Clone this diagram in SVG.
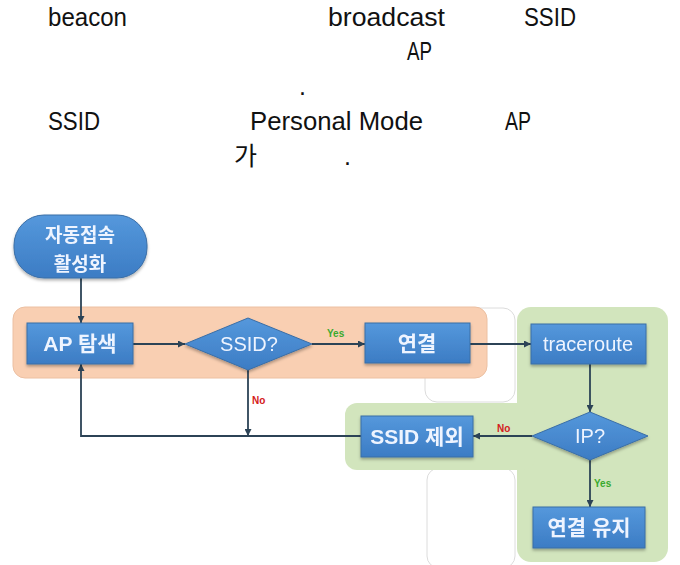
<svg xmlns="http://www.w3.org/2000/svg" width="680" height="565" viewBox="0 0 680 565">
<style>
.doc{font-family:"Liberation Sans","Noto Sans CJK KR",sans-serif;font-size:25px;fill:#111}
.box{fill:url(#blue);stroke:#3a6ea6;stroke-width:1}
.lbl{font-family:"Liberation Sans","Noto Sans CJK KR",sans-serif;font-size:21px;font-weight:bold;fill:#eef4ff;text-anchor:middle}
.reg{font-weight:normal;font-size:20px}
.sm{font-size:19px}
.con{fill:none;stroke:#2c4356;stroke-width:1.8}
.yes{font-family:"Liberation Sans",sans-serif;font-size:10px;font-weight:bold;fill:#3aaa2e}
.no{font-family:"Liberation Sans",sans-serif;font-size:10px;font-weight:bold;fill:#d42020}
</style>
<defs>
<linearGradient id="blue" x1="0" y1="0" x2="0" y2="1">
<stop offset="0" stop-color="#5598dc"/>
<stop offset="1" stop-color="#3c7cc4"/>
</linearGradient>
<filter id="sh" x="-20%" y="-20%" width="140%" height="150%">
<feDropShadow dx="0" dy="2" stdDeviation="1.5" flood-color="#000" flood-opacity="0.3"/>
</filter>
<marker id="arr" viewBox="0 0 10 10" refX="10" refY="5" markerWidth="7" markerHeight="7" markerUnits="userSpaceOnUse" orient="auto">
<path d="M0,0 L10,5 L0,10 z" fill="#2c4356"/>
</marker>
</defs>
<rect width="680" height="565" fill="#fff"/>

<g id="text">
<text class="doc" x="48" y="26" font-size="22" textLength="79" lengthAdjust="spacingAndGlyphs">beacon</text>
<text class="doc" x="328" y="26" textLength="117" lengthAdjust="spacingAndGlyphs">broadcast</text>
<text class="doc" x="524" y="26" textLength="52" lengthAdjust="spacingAndGlyphs">SSID</text>
<text class="doc" x="407" y="60" textLength="25" lengthAdjust="spacingAndGlyphs">AP</text>
<text class="doc" x="299" y="95">.</text>
<text class="doc" x="48" y="130" textLength="52" lengthAdjust="spacingAndGlyphs">SSID</text>
<text class="doc" x="250" y="130" textLength="173" lengthAdjust="spacingAndGlyphs">Personal Mode</text>
<text class="doc" x="505" y="130" textLength="26" lengthAdjust="spacingAndGlyphs">AP</text>
<text class="doc" x="234" y="165" font-size="22">가</text>
<text class="doc" x="344" y="165">.</text>
</g>

<g id="regions">
<rect x="425" y="308" width="90" height="94" rx="12" fill="#fff" stroke="#dcdcdc"/>
<rect x="427" y="468" width="88" height="100" rx="12" fill="#fff" stroke="#dcdcdc"/>
<rect x="13" y="307" width="474" height="71" rx="12" fill="#f9cfb2" stroke="#ecc0a2"/>
<rect x="517" y="307" width="151" height="255" rx="14" fill="#d2e5bd"/>
<rect x="345" y="403" width="190" height="67" rx="12" fill="#d2e5bd"/>
</g>

<g id="connectors">
<path class="con" d="M81,278 L81,323" marker-end="url(#arr)"/>
<path class="con" d="M133,344 L185,344" marker-end="url(#arr)"/>
<path class="con" d="M312,344 L365,344" marker-end="url(#arr)"/>
<path class="con" d="M470,344 L531,344" marker-end="url(#arr)"/>
<path class="con" d="M590,364 L590,412" marker-end="url(#arr)"/>
<path class="con" d="M590,460 L590,507" marker-end="url(#arr)"/>
<path class="con" d="M532,436 L473,436" marker-end="url(#arr)"/>
<path class="con" d="M248,370 L248,436" marker-end="url(#arr)"/>
<path class="con" d="M361,436 L81,436 L81,364" marker-end="url(#arr)"/>
<text class="yes" x="327" y="337">Yes</text>
<text class="no" x="252" y="404">No</text>
<text class="no" x="497" y="432">No</text>
<text class="yes" x="594" y="487">Yes</text>
</g>

<g id="start" filter="url(#sh)">
<rect class="box" x="14" y="215" width="133" height="63" rx="30"/>
<text class="lbl sm" x="80" y="242">자동접속</text>
<text class="lbl sm" x="80" y="271">활성화</text>
</g>
<g id="ap-search" filter="url(#sh)">
<rect class="box" x="27" y="323" width="106" height="41"/>
<text class="lbl" x="80" y="351">AP 탐색</text>
</g>
<g id="ssid-decision" filter="url(#sh)">
<polygon class="box" points="185,344 248,318 312,344 248,370"/>
<text class="lbl reg" x="249" y="351">SSID?</text>
</g>
<g id="connect" filter="url(#sh)">
<rect class="box" x="365" y="323" width="105" height="40"/>
<text class="lbl" x="417" y="351">연결</text>
</g>
<g id="traceroute" filter="url(#sh)">
<rect class="box" x="531" y="324" width="115" height="40"/>
<text class="lbl reg" x="588" y="351">traceroute</text>
</g>
<g id="ip-decision" filter="url(#sh)">
<polygon class="box" points="532,436 590,412 648,436 590,460"/>
<text class="lbl reg" x="590" y="443">IP?</text>
</g>
<g id="ssid-exclude" filter="url(#sh)">
<rect class="box" x="361" y="416" width="112" height="41"/>
<text class="lbl" x="417" y="444">SSID 제외</text>
</g>
<g id="keep-connection" filter="url(#sh)">
<rect class="box" x="533" y="507" width="112" height="41"/>
<text class="lbl" x="589" y="535">연결 유지</text>
</g>
</svg>
